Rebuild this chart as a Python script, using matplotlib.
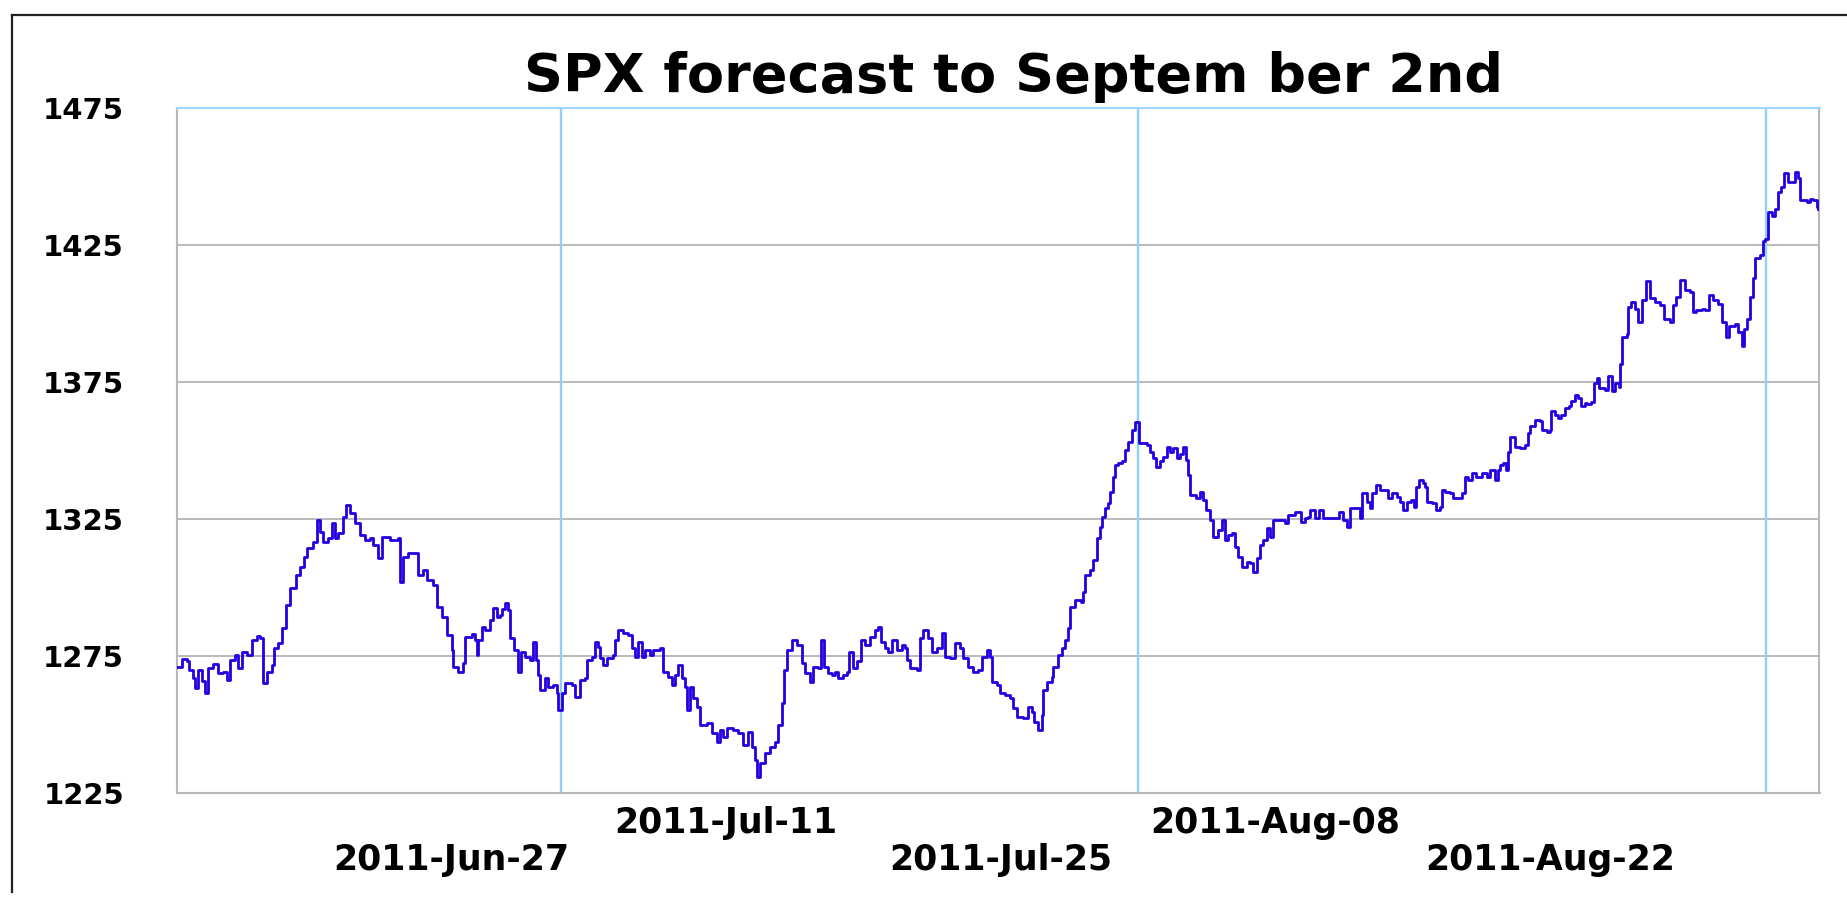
import numpy as np
import matplotlib
matplotlib.use("Agg")
import matplotlib.pyplot as plt
import matplotlib.dates as mdates
from matplotlib.lines import Line2D
import datetime as dt

plt.rcParams['font.family'] = ['DejaVu Sans']
plt.rcParams['font.weight'] = 'bold'

# ---------------- data (days after 2011-06-13, SPX value) ----------------
start_date = dt.datetime(2011, 6, 13)
axis_end_days = 83.72

# Jun 13 -> Jul 2
seg1_days = [0.00, 0.25, 0.51, 0.64, 0.81, 0.93, 1.10, 1.27, 1.44, 1.61, 1.87, 2.12, 2.38, 2.55,
             2.72, 2.97, 3.14, 3.31, 3.56, 3.82, 4.07, 4.24, 4.41, 4.62, 4.84, 4.96, 5.18, 5.35,
             5.57, 5.77, 6.08, 6.28, 6.49, 6.66, 6.96, 7.13, 7.30, 7.47, 7.73, 7.90, 8.07, 8.23,
             8.49, 8.63, 8.83, 9.09, 9.34, 9.59, 9.85, 10.02, 10.27, 10.48, 10.87, 11.29, 11.38,
             11.55, 11.80, 12.06, 12.31, 12.57, 12.74, 13.08, 13.25, 13.50, 13.76, 14.01, 14.10,
             14.35, 14.60, 14.69, 15.03, 15.20, 15.29, 15.37, 15.54, 15.71, 15.97, 16.14, 16.31,
             16.48, 16.56, 16.73, 16.90, 16.99, 17.19, 17.41, 17.53, 17.75, 18.00, 18.17, 18.31,
             18.43, 18.51, 18.77, 18.94, 19.19, 19.36, 19.45]
seg1_vals = [1271.1, 1273.8, 1273.0, 1270.0, 1267.0, 1263.2, 1270.0, 1266.0, 1261.4, 1270.5, 1272.0,
             1268.9, 1269.3, 1266.2, 1273.5, 1275.4, 1270.5, 1276.6, 1275.4, 1280.8, 1282.3, 1281.4,
             1265.0, 1269.3, 1271.7, 1277.8, 1279.6, 1285.1, 1293.6, 1299.7, 1304.6, 1307.6, 1311.3,
             1314.3, 1316.7, 1324.6, 1320.4, 1316.7, 1317.9, 1323.4, 1317.9, 1319.8, 1325.9, 1330.1,
             1327.1, 1323.4, 1319.2, 1317.3, 1317.9, 1315.5, 1310.6, 1318.6, 1317.3, 1317.9, 1302.1,
             1311.3, 1312.7, 1312.5, 1304.6, 1306.4, 1302.7, 1300.9, 1293.0, 1289.4, 1282.7, 1277.2,
             1271.1, 1269.3, 1272.3, 1282.0, 1283.0, 1280.8, 1275.4, 1280.8, 1285.7, 1284.5, 1288.1,
             1292.4, 1289.4, 1290.0, 1292.0, 1294.5, 1291.8, 1281.4, 1277.2, 1269.3, 1276.6, 1274.8,
             1273.5, 1280.2, 1273.5, 1268.1, 1262.6, 1266.8, 1263.8, 1264.4, 1261.4, 1255.3]

# Jul 2 -> Aug 1
seg2_days = [19.62, 19.79, 20.13, 20.30, 20.55, 20.81, 20.89, 21.15, 21.32, 21.49, 21.57, 21.74,
             21.91, 22.22, 22.34, 22.51, 22.76, 23.01, 23.18, 23.35, 23.52, 23.69, 23.86, 24.12,
             24.29, 24.63, 24.80, 25.05, 25.22, 25.39, 25.56, 25.73, 25.90, 26.02, 26.16, 26.33,
             26.50, 26.67, 27.01, 27.26, 27.52, 27.69, 27.86, 28.03, 28.36, 28.62, 28.87, 29.13,
             29.30, 29.47, 29.55, 29.72, 29.98, 30.23, 30.49, 30.66, 30.83, 30.95, 31.12, 31.37,
             31.59, 31.85, 32.02, 32.27, 32.41, 32.70, 32.83, 32.98, 33.21, 33.38, 33.55, 33.72,
             33.97, 34.17, 34.28, 34.48, 34.65, 34.85, 35.07, 35.33, 35.58, 35.75, 35.87, 36.09,
             36.26, 36.43, 36.69, 36.94, 37.11, 37.20, 37.37, 37.71, 37.88, 38.05, 38.30, 38.47,
             38.73, 38.98, 39.15, 39.41, 39.66, 39.92, 40.08, 40.34, 40.59, 40.85, 41.02, 41.27,
             41.44, 41.53, 41.78, 41.95, 42.21, 42.46, 42.63, 42.80, 43.14, 43.40, 43.57, 43.69,
             43.91, 44.08, 44.13, 44.33, 44.59, 44.67, 44.93, 45.10, 45.26, 45.44, 45.52, 45.77,
             46.11, 46.20, 46.28, 46.54, 46.71, 46.88, 47.05, 47.13, 47.30, 47.47, 47.56, 47.73,
             47.81, 47.98, 48.15, 48.32, 48.49, 48.66, 48.83]
seg2_vals = [1261.4, 1265.0, 1264.4, 1260.2, 1266.2, 1266.8, 1273.5, 1274.8, 1280.2, 1278.4, 1274.1,
             1271.7, 1274.1, 1275.4, 1280.8, 1284.5, 1283.3, 1282.7, 1277.8, 1274.8, 1280.2, 1274.8,
             1277.2, 1275.4, 1277.2, 1277.8, 1269.3, 1267.5, 1264.4, 1268.1, 1271.7, 1266.8, 1263.8,
             1255.3, 1263.8, 1259.5, 1256.5, 1249.8, 1250.4, 1246.8, 1243.7, 1248.0, 1245.6, 1248.6,
             1248.0, 1246.8, 1242.5, 1247.4, 1241.9, 1237.0, 1231.0, 1235.8, 1239.5, 1241.9, 1243.7,
             1249.8, 1257.7, 1269.9, 1277.2, 1280.8, 1279.0, 1272.3, 1268.7, 1265.6, 1271.1, 1270.5,
             1280.8, 1271.1, 1268.7, 1268.1, 1269.3, 1266.8, 1268.1, 1269.3, 1276.6, 1270.5, 1273.0,
             1280.8, 1279.0, 1282.0, 1284.5, 1285.7, 1280.2, 1277.8, 1276.6, 1280.8, 1277.2, 1279.0,
             1277.8, 1273.5, 1270.5, 1269.9, 1281.4, 1284.5, 1281.4, 1276.6, 1277.8, 1283.3, 1274.8,
             1274.1, 1279.6, 1277.8, 1274.1, 1271.1, 1269.3, 1269.9, 1274.8, 1277.2, 1274.8, 1265.6,
             1264.4, 1261.4, 1260.8, 1259.5, 1255.9, 1252.9, 1252.3, 1256.5, 1254.7, 1251.0, 1248.0,
             1253.5, 1262.6, 1265.6, 1267.5, 1271.1, 1275.4, 1277.8, 1280.8, 1285.1, 1293.0, 1295.4,
             1294.8, 1298.5, 1304.6, 1306.4, 1310.0, 1317.9, 1322.2, 1325.9, 1328.9, 1330.7, 1335.0,
             1340.5, 1344.7, 1345.3, 1346.0, 1350.2, 1353.2, 1357.5, 1360.5]

# Aug 1 -> Sep 2
seg3_days = [49.05, 49.43, 49.60, 49.77, 49.90, 50.11, 50.28, 50.45, 50.62, 50.79, 50.96, 51.12,
             51.29, 51.43, 51.55, 51.63, 51.97, 52.14, 52.31, 52.48, 52.65, 52.82, 53.08, 53.25,
             53.42, 53.59, 53.76, 53.93, 54.10, 54.27, 54.52, 54.69, 54.86, 55.03, 55.20, 55.37,
             55.54, 55.71, 55.88, 56.22, 56.48, 56.65, 56.99, 57.32, 57.49, 57.66, 57.78, 58.00,
             58.22, 58.43, 58.68, 59.02, 59.24, 59.45, 59.62, 59.79, 60.13, 60.30, 60.38, 60.64,
             60.81, 60.89, 61.11, 61.32, 61.57, 61.74, 61.91, 62.17, 62.34, 62.51, 62.68, 62.88,
             63.05, 63.15, 63.32, 63.52, 63.61, 63.73, 63.95, 64.20, 64.37, 64.46, 64.63, 64.88,
             65.05, 65.31, 65.48, 65.65, 65.82, 65.99, 66.24, 66.50, 66.75, 66.92, 67.18, 67.35,
             67.43, 67.60, 67.74, 67.86, 67.97, 68.20, 68.45, 68.70, 68.87, 68.99, 69.21, 69.47,
             69.60, 69.81, 69.98, 70.06, 70.23, 70.40, 70.57, 70.74, 70.96, 71.08, 71.25, 71.42,
             71.59, 71.76, 71.85, 72.10, 72.22, 72.36, 72.49, 72.78, 72.95, 73.12, 73.29, 73.51,
             73.55, 73.63, 73.89, 73.94, 74.09, 74.31, 74.48, 74.65, 74.90, 75.07, 75.33, 75.58,
             75.79, 76.09, 76.26, 76.43, 76.60, 76.86, 77.11, 77.25, 77.45, 77.71, 77.88, 78.10,
             78.30, 78.56, 78.73, 78.95, 79.12, 79.41, 79.58, 79.75, 79.86, 80.00, 80.17, 80.31,
             80.42, 80.68, 80.85, 80.93]
seg3_vals = [1352.6, 1352.0, 1349.6, 1347.1, 1343.9, 1346.0, 1347.8, 1351.4, 1349.6, 1350.8, 1347.1,
             1348.9, 1351.4, 1346.5, 1341.1, 1333.8, 1332.5, 1335.0, 1331.9, 1328.3, 1324.6, 1318.6,
             1321.0, 1324.6, 1317.3, 1319.2, 1319.8, 1314.9, 1311.3, 1307.6, 1309.4, 1308.8, 1305.8,
             1310.6, 1315.5, 1317.3, 1321.6, 1318.6, 1324.6, 1324.6, 1323.4, 1326.5, 1327.7, 1324.0,
             1325.2, 1325.9, 1328.3, 1325.2, 1328.3, 1325.2, 1325.2, 1325.2, 1327.7, 1324.6, 1322.2,
             1328.9, 1328.9, 1325.2, 1334.4, 1331.3, 1328.9, 1334.4, 1337.4, 1335.6, 1335.6, 1332.5,
             1334.4, 1333.2, 1331.3, 1328.3, 1331.3, 1332.0, 1329.5, 1336.8, 1339.2, 1338.0, 1336.8,
             1331.3, 1330.7, 1328.3, 1329.5, 1335.6, 1335.0, 1334.4, 1332.5, 1332.5, 1334.4, 1340.5,
             1339.2, 1341.7, 1340.5, 1341.7, 1340.5, 1342.9, 1339.2, 1342.9, 1344.7, 1345.3, 1342.9,
             1349.6, 1355.0, 1351.4, 1350.8, 1352.0, 1356.4, 1358.8, 1361.2, 1360.6, 1357.5, 1356.9,
             1357.5, 1364.3, 1363.1, 1361.9, 1363.1, 1365.6, 1366.2, 1368.0, 1370.2, 1369.2, 1366.2,
             1367.5, 1367.0, 1367.8, 1374.6, 1376.5, 1372.8, 1372.2, 1377.1, 1371.6, 1374.6, 1373.3,
             1381.4, 1391.3, 1392.5, 1402.4, 1404.3, 1401.8, 1396.9, 1404.9, 1411.7, 1405.5, 1404.3,
             1403.0, 1398.1, 1396.9, 1403.0, 1406.1, 1412.3, 1408.6, 1408.0, 1400.6, 1401.2, 1401.8,
             1401.2, 1406.7, 1404.9, 1403.6, 1396.9, 1391.3, 1395.6, 1396.2, 1393.1, 1388.2, 1394.4,
             1398.1, 1406.1, 1412.9, 1420.3, 1421.5, 1426.5, 1427.1]

# Sep 2 -> end
seg4_days = [81.10, 81.32, 81.44, 81.61, 81.78, 81.90, 82.12, 82.29, 82.46, 82.63, 82.72, 83.06,
             83.23, 83.40, 83.57, 83.65]
seg4_vals = [1437.0, 1435.7, 1438.2, 1444.4, 1446.2, 1451.2, 1448.1, 1448.1, 1451.8, 1449.3, 1441.3,
             1440.7, 1441.9, 1441.3, 1438.8, 1438.2]

y_ticks = [1225, 1275, 1325, 1375, 1425, 1475]
upper_row_dates = ['2011-07-11', '2011-08-08']
lower_row_dates = ['2011-06-27', '2011-07-25', '2011-08-22']
marker_dates = ['2011-07-02 13:45', '2011-08-01', '2011-09-02']
title_text = 'SPX forecast to Septem ber 2nd'

# ---------------- figure ----------------
W, H = 1847, 898
fig = plt.figure(figsize=(W / 100, H / 100), dpi=100)
fig.patch.set_facecolor('white')
ax = fig.add_axes([176.7 / W, 1 - 793 / H, (1819.5 - 176.7) / W, (793 - 108) / H])

base = mdates.date2num(start_date)
days = np.array(seg1_days + seg2_days + seg3_days + seg4_days)
vals = np.array(seg1_vals + seg2_vals + seg3_vals + seg4_vals)

ax.plot(base + days, vals, drawstyle='steps-post', color='#2400e0', lw=2.0, zorder=3)

for d in marker_dates:
    ax.axvline(mdates.datestr2num(d), color='#8fd0fb', lw=1.7, zorder=2)

ax.set_xlim(base, base + axis_end_days)
ax.set_ylim(1225, 1475)
ax.set_yticks(y_ticks)
ax.yaxis.grid(True, color='#b4b4b4', lw=1.3)
ax.set_axisbelow(True)

ax.set_xticks([mdates.datestr2num(d) for d in upper_row_dates])
ax.set_xticks([mdates.datestr2num(d) for d in lower_row_dates], minor=True)
fmt = mdates.DateFormatter('%Y-%b-%d')
ax.xaxis.set_major_formatter(fmt)
ax.xaxis.set_minor_formatter(fmt)
ax.tick_params(axis='x', which='major', length=0, pad=9, labelsize=25, labelcolor='black')
ax.tick_params(axis='x', which='minor', length=0, pad=36, labelsize=25, labelcolor='black')
ax.tick_params(axis='y', length=0, pad=38, labelsize=21, labelcolor='black')
for lab in ax.get_xticklabels() + ax.get_xticklabels(minor=True) + ax.get_yticklabels():
    lab.set_fontweight('bold')

for side in ['left', 'bottom', 'right']:
    ax.spines[side].set_color('#b8b8b8')
    ax.spines[side].set_linewidth(1.5)
ax.spines['top'].set_color('#9dd5ff')
ax.spines['top'].set_linewidth(1.5)

fig.text(1014 / W, 1 - 92 / H, title_text, ha='center', va='baseline',
         fontsize=39, fontweight='bold', color='black')

# outer frame lines
fig.add_artist(Line2D([12 / W, 12 / W], [1 - 15 / H, 1 - 892 / H], transform=fig.transFigure,
                      color='#222222', lw=1.6))
fig.add_artist(Line2D([12 / W, 1.0], [1 - 15 / H, 1 - 15 / H], transform=fig.transFigure,
                      color='#222222', lw=1.6))

fig.savefig('out.png', dpi=100, facecolor='white')
